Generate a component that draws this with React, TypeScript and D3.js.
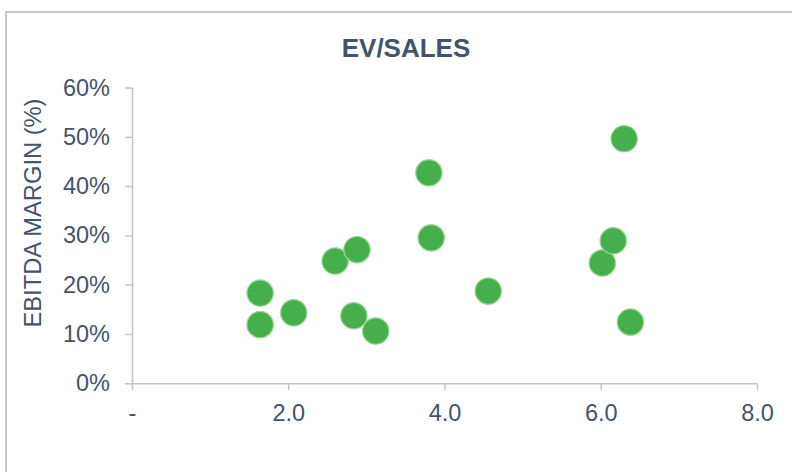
import React, { useEffect, useRef } from "react";
import * as d3 from "d3";

// EV/Sales multiple vs EBITDA margin
const evSales = [1.64, 1.64, 2.07, 2.6, 2.88, 2.84, 3.12, 3.8, 3.83, 4.56, 6.02, 6.16, 6.3, 6.38];
const ebitdaMargin = [0.183, 0.119, 0.143, 0.248, 0.271, 0.137, 0.106, 0.427, 0.295, 0.187, 0.244, 0.289, 0.496, 0.124];

const xTicks = [0, 2, 4, 6, 8];
const yTicks = [0, 0.1, 0.2, 0.3, 0.4, 0.5, 0.6];

const chartTitle = "EV/SALES";
const yTitle = "EBITDA MARGIN (%)";

const App = () => {
  const d3Container = useRef(null);

  useEffect(() => {
    document.body.style.margin = "0";
    drawChart();
    return () => {
      d3.select(d3Container.current).select("svg").remove();
    };
  }, []);

  const drawChart = () => {
    const width = 792;
    const height = 472;
    const textColor = "#44546a";
    const axisColor = "#c4c4c4";
    const font = "Arial, 'Liberation Sans', sans-serif";

    const svg = d3
      .select(d3Container.current)
      .append("svg")
      .attr("width", width)
      .attr("height", height)
      .style("display", "block")
      .style("background", "#ffffff");

    // outer frame (runs off the right and bottom edge)
    svg
      .append("rect")
      .attr("x", 6)
      .attr("y", 12)
      .attr("width", 820)
      .attr("height", 500)
      .style("fill", "none")
      .style("stroke", "#c8c8c8")
      .style("stroke-width", 2);

    const x = d3.scaleLinear().domain([0, 8]).range([132, 757]);
    const y = d3.scaleLinear().domain([0, 0.6]).range([383.3, 87.5]);

    // title
    svg
      .append("text")
      .attr("x", 406)
      .attr("y", 57)
      .attr("text-anchor", "middle")
      .style("font-family", font)
      .style("font-size", "26px")
      .style("font-weight", "bold")
      .style("fill", textColor)
      .text(chartTitle);

    // x axis
    const xAxis = svg
      .append("g")
      .attr("transform", `translate(0, ${y(0)})`)
      .call(
        d3
          .axisBottom(x)
          .tickValues(xTicks)
          .tickSizeInner(7)
          .tickSizeOuter(0)
          .tickPadding(14)
          .tickFormat((d: any) => (d === 0 ? "-" : d3.format(".1f")(d)))
      );

    // y axis
    const yAxis = svg
      .append("g")
      .attr("transform", `translate(${x(0)}, 0)`)
      .call(
        d3
          .axisLeft(y)
          .tickValues(yTicks)
          .tickSizeInner(7)
          .tickSizeOuter(0)
          .tickPadding(15)
          .tickFormat(d3.format(".0%") as any)
      );

    [xAxis, yAxis].forEach((ax) => {
      ax.select(".domain").style("stroke", axisColor).style("stroke-width", 1.5);
      ax.selectAll(".tick line").style("stroke", axisColor).style("stroke-width", 1.5);
      ax.selectAll(".tick text")
        .style("font-family", font)
        .style("font-size", "23.5px")
        .style("fill", textColor);
    });

    // y axis title
    svg
      .append("text")
      .attr("transform", `translate(41, 213) rotate(-90)`)
      .attr("text-anchor", "middle")
      .style("font-family", font)
      .style("font-size", "23.7px")
      .style("fill", textColor)
      .text(yTitle);

    // points
    svg
      .append("g")
      .selectAll("circle")
      .data(evSales.map((v, i) => ({ v, m: ebitdaMargin[i] })))
      .enter()
      .append("circle")
      .attr("cx", (d) => x(d.v))
      .attr("cy", (d) => y(d.m))
      .attr("r", 13.2)
      .style("fill", "#45b04b")
      .style("stroke", "#9fd59f")
      .style("stroke-width", 1.2);
  };

  return <div ref={d3Container}></div>;
};

export default App;
